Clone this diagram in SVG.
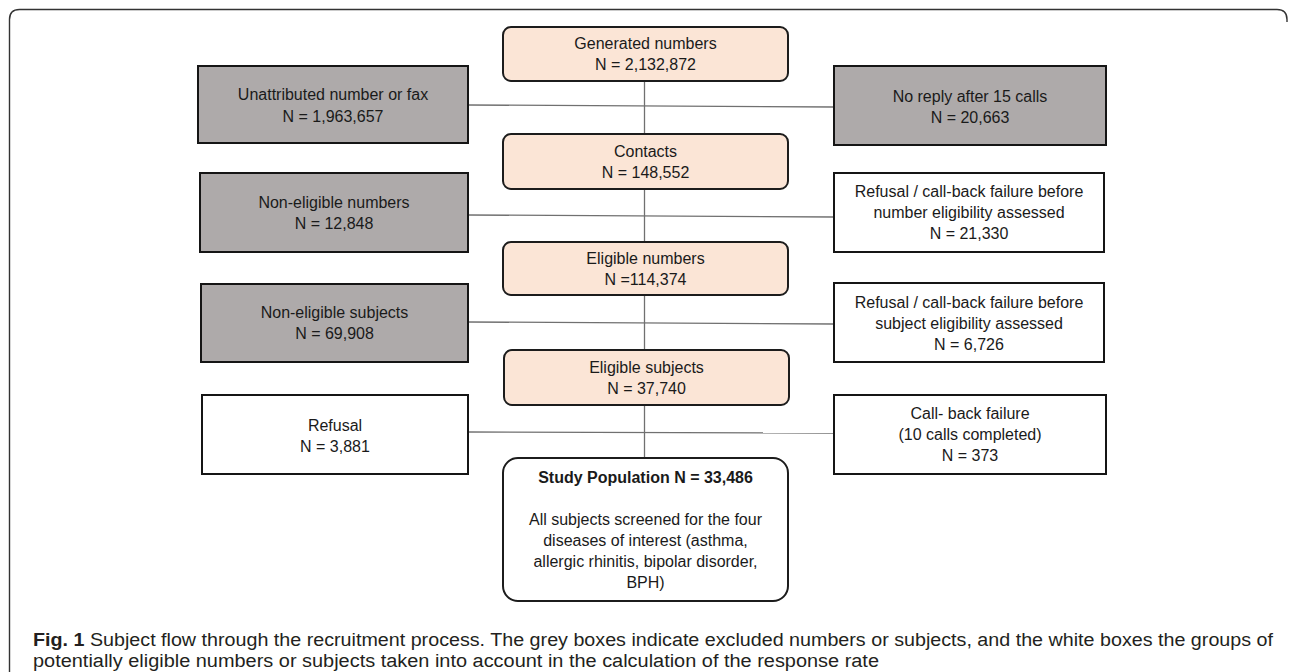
<svg xmlns="http://www.w3.org/2000/svg" width="1292" height="672" viewBox="0 0 1292 672">
<style>
.t{font-family:"Liberation Sans",Arial,sans-serif;font-size:16px;fill:#1a1a1a;text-anchor:middle}
.b{font-weight:bold}
.grey{fill:#aeaaaa;stroke:#151515;stroke-width:2}
.white{fill:#ffffff;stroke:#151515;stroke-width:2}
.peach{fill:#fbe5d6;stroke:#1c1c1c;stroke-width:2}
.study{fill:#ffffff;stroke:#1c1c1c;stroke-width:2}
.conn line{stroke:#707070;stroke-width:1.3}
.cap{font-family:"Liberation Sans",Arial,sans-serif;font-size:18px;fill:#231f20}
</style>
<rect width="1292" height="672" fill="#ffffff"/>
<path d="M9.5 672 L9.5 19.5 Q9.5 9.5 19.5 9.5 L1277 9.5 Q1287 9.5 1287 19.5 L1287 22" fill="none" stroke="#333" stroke-width="1.4"/>
<g id="connectors" class="conn">
<line x1="468" y1="105" x2="834" y2="107"/>
<line x1="468" y1="215" x2="834" y2="217"/>
<line x1="468" y1="322" x2="834" y2="324"/>
<line x1="468" y1="432" x2="834" y2="433"/>
<line x1="644.5" y1="81" x2="644.5" y2="134"/>
<line x1="644.5" y1="189" x2="644.5" y2="242"/>
<line x1="644.5" y1="295" x2="644.5" y2="350"/>
<line x1="644.5" y1="405" x2="644.5" y2="458"/>
</g>
<g id="generated">
<rect class="peach" x="503" y="27" width="285" height="54" rx="8"/>
<text class="t" x="645.5" y="49">Generated numbers</text>
<text class="t" x="645.5" y="70">N = 2,132,872</text>
</g>
<g id="contacts">
<rect class="peach" x="503" y="134" width="285" height="55" rx="8"/>
<text class="t" x="645.5" y="157">Contacts</text>
<text class="t" x="645.5" y="178">N = 148,552</text>
</g>
<g id="eligible-numbers">
<rect class="peach" x="503" y="242" width="285" height="53" rx="8"/>
<text class="t" x="645.5" y="263.5">Eligible numbers</text>
<text class="t" x="645.5" y="284.5">N =114,374</text>
</g>
<g id="eligible-subjects">
<rect class="peach" x="504" y="350" width="285" height="55" rx="8"/>
<text class="t" x="646.5" y="372.5">Eligible subjects</text>
<text class="t" x="646.5" y="393.5">N = 37,740</text>
</g>
<g id="study-population">
<rect class="study" x="503" y="458" width="285" height="143" rx="15"/>
<text class="t b" x="645.5" y="482.5">Study Population N = 33,486</text>
<text class="t" x="645.5" y="525">All subjects screened for the four</text>
<text class="t" x="645.5" y="546">diseases of interest (asthma,</text>
<text class="t" x="645.5" y="567">allergic rhinitis, bipolar disorder,</text>
<text class="t" x="645.5" y="588">BPH)</text>
</g>
<g id="unattributed">
<rect class="grey" x="198" y="66" width="270" height="77"/>
<text class="t" x="333" y="99.5">Unattributed number or fax</text>
<text class="t" x="333" y="121.5">N = 1,963,657</text>
</g>
<g id="non-eligible-numbers">
<rect class="grey" x="200" y="173" width="268" height="79"/>
<text class="t" x="334" y="207.5">Non-eligible numbers</text>
<text class="t" x="334" y="228.5">N = 12,848</text>
</g>
<g id="non-eligible-subjects">
<rect class="grey" x="201" y="284" width="267" height="78"/>
<text class="t" x="334.5" y="317.5">Non-eligible subjects</text>
<text class="t" x="334.5" y="338.5">N = 69,908</text>
</g>
<g id="refusal">
<rect class="white" x="202" y="395" width="266" height="79"/>
<text class="t" x="335" y="430.5">Refusal</text>
<text class="t" x="335" y="451.5">N = 3,881</text>
</g>
<g id="no-reply">
<rect class="grey" x="834" y="66" width="272" height="79"/>
<text class="t" x="970" y="101.5">No reply after 15 calls</text>
<text class="t" x="970" y="122.5">N = 20,663</text>
</g>
<g id="refusal-number">
<rect class="white" x="834" y="173" width="270" height="79"/>
<text class="t" x="969" y="196.5">Refusal / call-back failure before</text>
<text class="t" x="969" y="217.5">number eligibility assessed</text>
<text class="t" x="969" y="238.5">N = 21,330</text>
</g>
<g id="refusal-subject">
<rect class="white" x="834" y="283" width="270" height="79"/>
<text class="t" x="969" y="307.5">Refusal / call-back failure before</text>
<text class="t" x="969" y="328.5">subject eligibility assessed</text>
<text class="t" x="969" y="349.5">N = 6,726</text>
</g>
<g id="call-back-failure">
<rect class="white" x="834" y="395" width="272" height="79"/>
<text class="t" x="970" y="418.5">Call- back failure</text>
<text class="t" x="970" y="440">(10 calls completed)</text>
<text class="t" x="970" y="461">N = 373</text>
</g>
<g id="caption">
<text class="cap" x="33" y="645.5" textLength="1240" lengthAdjust="spacingAndGlyphs"><tspan font-weight="bold">Fig. 1</tspan> Subject flow through the recruitment process. The grey boxes indicate excluded numbers or subjects, and the white boxes the groups of</text>
<text class="cap" x="33" y="666.5" textLength="846" lengthAdjust="spacingAndGlyphs">potentially eligible numbers or subjects taken into account in the calculation of the response rate</text>
</g>
</svg>
